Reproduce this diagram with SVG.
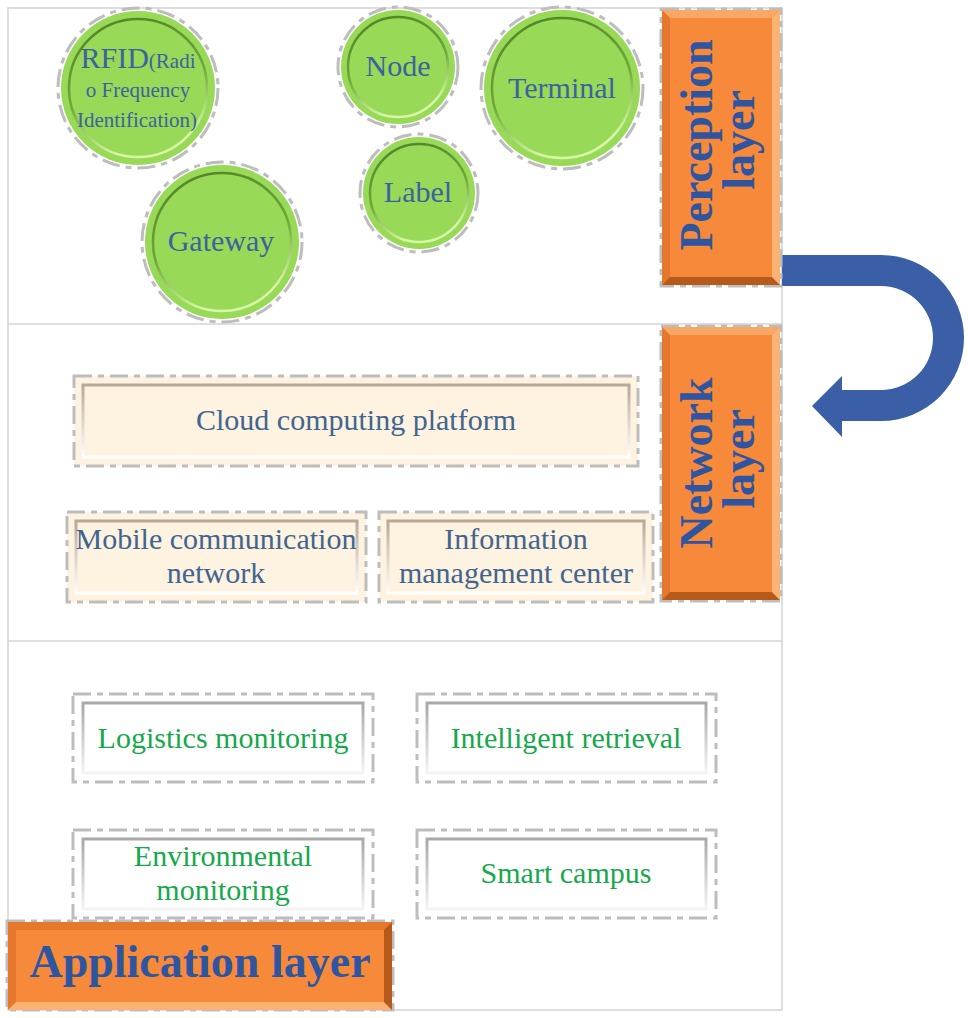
<svg xmlns="http://www.w3.org/2000/svg" width="968" height="1018" viewBox="0 0 968 1018">
<defs>
<linearGradient id="gRing" x1="0" y1="0" x2="0.3" y2="1">
<stop offset="0" stop-color="#4F7F26"/>
<stop offset="0.6" stop-color="#6FA83A"/>
<stop offset="1" stop-color="#D8F7A8"/>
</linearGradient>
<linearGradient id="bRing" x1="0" y1="0" x2="0" y2="1">
<stop offset="0" stop-color="#B8A898"/>
<stop offset="1" stop-color="#FFFFFF"/>
</linearGradient>
<linearGradient id="wRing" x1="0" y1="0" x2="0" y2="1">
<stop offset="0" stop-color="#A8A8A8"/>
<stop offset="1" stop-color="#F4F4F4"/>
</linearGradient>
</defs>
<style>
.frame{fill:none;stroke:#D4D4D4;stroke-width:1.5}
.dash{fill:none;stroke:#BDBDBD;stroke-width:3;stroke-dasharray:18 6 6 6}
.green{fill:#98D957}
.gring{fill:none;stroke:url(#gRing);stroke-width:2.5}
.peach{fill:#FEF2E1}
.pring{fill:none;stroke:url(#bRing);stroke-width:3}
.white{fill:#FFFFFF}
.wring{fill:none;stroke:url(#wRing);stroke-width:3}
.orange{fill:#F68A3A}
.bt{fill:#F9A765}
.bl{fill:#E5782C}
.bb{fill:#B65A1C}
.br{fill:#FBB374}
.ct{font-family:"Liberation Serif","Times New Roman",serif;font-size:30px;fill:#3C62A0;text-anchor:middle}
.sm{font-size:21px}
.nt{font-family:"Liberation Serif","Times New Roman",serif;font-size:30px;fill:#41658F;text-anchor:middle}
.at{font-family:"Liberation Serif","Times New Roman",serif;font-size:30px;fill:#16A84C;text-anchor:middle}
.lt{font-family:"Liberation Serif","Times New Roman",serif;font-size:46px;font-weight:bold;fill:#2F55A0;text-anchor:middle}
</style>
<rect width="968" height="1018" fill="#FFFFFF"/>
<g id="frame">
<rect class="frame" x="8" y="8" width="774" height="1002"/>
<line class="frame" x1="8" y1="324" x2="782" y2="324"/>
<line class="frame" x1="8" y1="641" x2="782" y2="641"/>
</g>
<g id="connectors">
<path d="M782,255 L881,255 A83,83 0 0 1 881,421 L842,421 L842,437 L812,406 L842,376 L842,390 L881,390 A52,52 0 0 0 881,286 L782,286 Z" fill="#3A5FA7"/>
</g>
<g id="rfid">
<circle class="dash" cx="138" cy="88" r="80"/>
<circle class="green" cx="138" cy="88" r="77"/>
<circle class="gring" cx="138" cy="88" r="69"/>
<text class="ct" x="138" y="68"><tspan>RFID</tspan><tspan class="sm">(Radi</tspan></text>
<text class="ct sm" x="138" y="97">o Frequency</text>
<text class="ct sm" x="137" y="127">Identification)</text>
</g>
<g id="gateway">
<circle class="dash" cx="222" cy="242" r="80"/>
<circle class="green" cx="222" cy="242" r="77"/>
<circle class="gring" cx="222" cy="242" r="69"/>
<text class="ct" x="221" y="251">Gateway</text>
</g>
<g id="node">
<circle class="dash" cx="398" cy="67" r="60"/>
<circle class="green" cx="398" cy="67" r="57"/>
<circle class="gring" cx="398" cy="67" r="50"/>
<text class="ct" x="398" y="76">Node</text>
</g>
<g id="label">
<circle class="dash" cx="419" cy="193" r="59"/>
<circle class="green" cx="419" cy="193" r="56"/>
<circle class="gring" cx="419" cy="193" r="49"/>
<text class="ct" x="418" y="202">Label</text>
</g>
<g id="terminal">
<circle class="dash" cx="562" cy="88" r="81"/>
<circle class="green" cx="562" cy="88" r="78"/>
<circle class="gring" cx="562" cy="88" r="70"/>
<text class="ct" x="562" y="98">Terminal</text>
</g>
<g id="perception">
<rect class="dash" x="661" y="9" width="120" height="277"/>
<rect class="orange" x="662" y="10" width="118" height="275"/>
<polygon class="bt" points="662,10 780,10 772,18 670,18"/>
<polygon class="bl" points="662,10 670,18 670,277 662,285"/>
<polygon class="bb" points="662,285 670,277 772,277 780,285"/>
<polygon class="br" points="780,10 780,285 772,277 772,18"/>
<text class="lt" transform="translate(712,145) rotate(-90)">Perception</text>
<text class="lt" transform="translate(754,140) rotate(-90)">layer</text>
</g>
<g id="network">
<rect class="dash" x="661" y="326" width="120" height="275"/>
<rect class="orange" x="662" y="327" width="118" height="273"/>
<polygon class="bt" points="662,327 780,327 772,335 670,335"/>
<polygon class="bl" points="662,327 670,335 670,592 662,600"/>
<polygon class="bb" points="662,600 670,592 772,592 780,600"/>
<polygon class="br" points="780,327 780,600 772,592 772,335"/>
<text class="lt" transform="translate(712,463) rotate(-90)">Network</text>
<text class="lt" transform="translate(754,459) rotate(-90)">layer</text>
</g>
<g id="cloud">
<rect class="peach" x="74" y="376" width="564" height="90"/>
<rect class="dash" x="74" y="376" width="564" height="90"/>
<rect class="pring" x="83" y="385" width="546" height="72"/>
<text class="nt" x="356" y="430">Cloud computing platform</text>
</g>
<g id="mobile">
<rect class="peach" x="67" y="512" width="299" height="90"/>
<rect class="dash" x="67" y="512" width="299" height="90"/>
<rect class="pring" x="76" y="521" width="281" height="72"/>
<text class="nt" x="216" y="549">Mobile communication</text>
<text class="nt" x="216" y="583">network</text>
</g>
<g id="info">
<rect class="peach" x="379" y="512" width="274" height="90"/>
<rect class="dash" x="379" y="512" width="274" height="90"/>
<rect class="pring" x="388" y="521" width="256" height="72"/>
<text class="nt" x="516" y="549">Information</text>
<text class="nt" x="516" y="583">management center</text>
</g>
<g id="logistics">
<rect class="white" x="73" y="694" width="300" height="88"/>
<rect class="dash" x="73" y="694" width="300" height="88"/>
<rect class="wring" x="83" y="703" width="280" height="70"/>
<text class="at" x="223" y="748">Logistics monitoring</text>
</g>
<g id="retrieval">
<rect class="white" x="417" y="694" width="299" height="88"/>
<rect class="dash" x="417" y="694" width="299" height="88"/>
<rect class="wring" x="427" y="703" width="279" height="70"/>
<text class="at" x="566" y="748">Intelligent retrieval</text>
</g>
<g id="environmental">
<rect class="white" x="73" y="830" width="300" height="88"/>
<rect class="dash" x="73" y="830" width="300" height="88"/>
<rect class="wring" x="83" y="839" width="280" height="70"/>
<text class="at" x="223" y="866">Environmental</text>
<text class="at" x="223" y="900">monitoring</text>
</g>
<g id="campus">
<rect class="white" x="417" y="830" width="299" height="88"/>
<rect class="dash" x="417" y="830" width="299" height="88"/>
<rect class="wring" x="427" y="839" width="279" height="70"/>
<text class="at" x="566" y="883">Smart campus</text>
</g>
<g id="application">
<rect class="dash" x="7" y="921" width="386" height="89"/>
<rect class="orange" x="8" y="922" width="384" height="88"/>
<polygon class="bl" points="8,922 392,922 384,930 16,930"/>
<polygon class="bl" points="8,922 16,930 16,1002 8,1010"/>
<polygon class="br" points="8,1010 16,1002 384,1002 392,1010"/>
<polygon class="bb" points="392,922 392,1010 384,1002 384,930"/>
<text class="lt" x="200" y="977">Application layer</text>
</g>
</svg>
